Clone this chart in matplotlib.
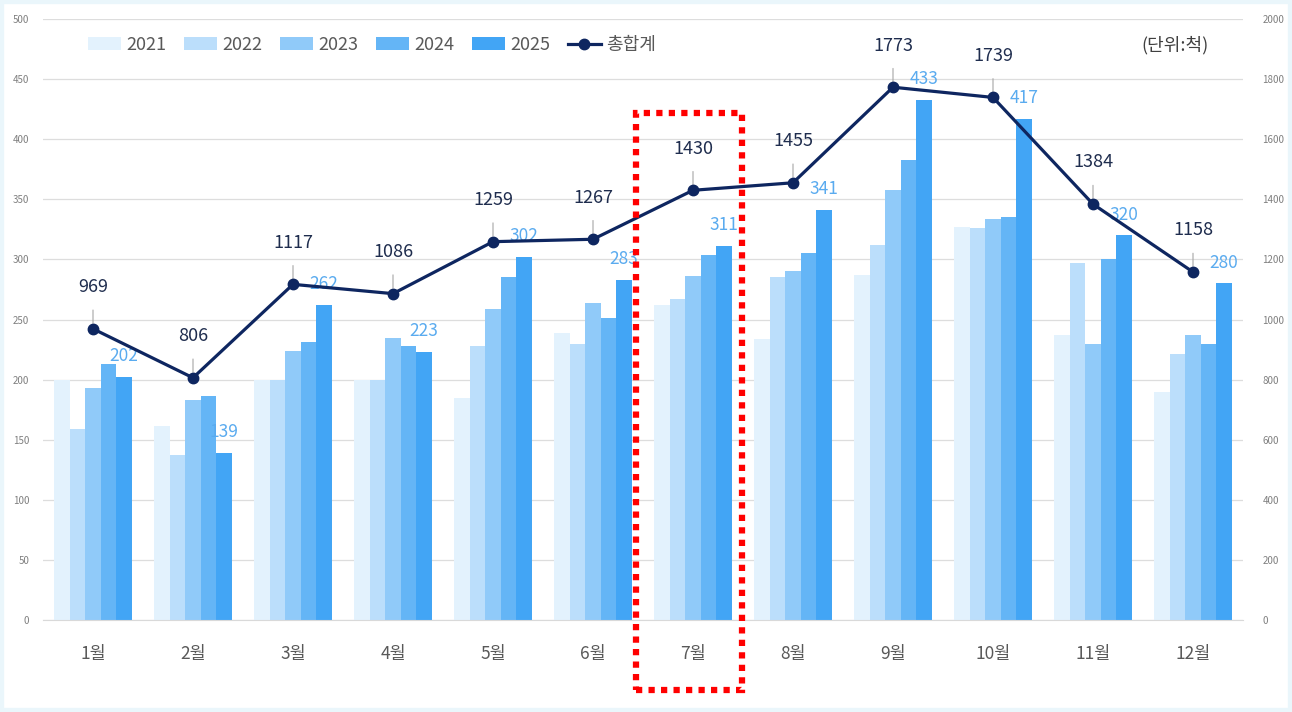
import matplotlib.pyplot as plt
from matplotlib.patches import Rectangle
import numpy as np

plt.rcParams['font.family'] = ['Noto Sans CJK KR', 'DejaVu Sans']

months = ['1월', '2월', '3월', '4월', '5월', '6월', '7월', '8월', '9월', '10월', '11월', '12월']
years = ['2021', '2022', '2023', '2024', '2025']
v2021 = [200, 161, 200, 200, 185, 239, 262, 234, 287, 327, 237, 190]
v2022 = [159, 137, 200, 200, 228, 230, 267, 285, 312, 326, 297, 221]
v2023 = [193, 183, 224, 235, 259, 264, 286, 290, 358, 334, 230, 237]
v2024 = [213, 186, 231, 228, 285, 251, 304, 305, 383, 335, 300, 230]
v2025 = [202, 139, 262, 223, 302, 283, 311, 341, 433, 417, 320, 280]
totals = [969, 806, 1117, 1086, 1259, 1267, 1430, 1455, 1773, 1739, 1384, 1158]
highlight = '7월'

bar_colors = ['#e3f2fd', '#bbdefb', '#90caf9', '#64b5f6', '#42a5f5']
line_color = '#0e2660'

fig = plt.figure(figsize=(12.92, 7.12), dpi=100)
ax = fig.add_axes([43 / 1292, 1 - 620 / 712, 1200 / 1292, 601 / 712])
ax2 = ax.twinx()

x = np.arange(len(months))
width = 0.155
series = [v2021, v2022, v2023, v2024, v2025]
for i, vals in enumerate(series):
    ax.bar(x + (i - 2) * width, vals, width, color=bar_colors[i], label=years[i], zorder=2)

# 2025 value labels
for xi, v in zip(x, v2025):
    ax.annotate(str(v), (xi + 2 * width, v), xytext=(0, 15), textcoords='offset points',
                ha='center', va='center', fontsize=12.5, color='#5aabef', zorder=4)

ax.set_xlim(-0.5, len(months) - 0.5)
ax.set_ylim(0, 500)
ax.set_yticks(np.arange(0, 501, 50))
ax.grid(axis='y', color='#dddddd', linewidth=0.9, zorder=0)
ax.set_axisbelow(True)
ax.set_xticks(x)
ax.set_xticklabels(months, fontsize=12.5, color='#595959')
ax.tick_params(axis='y', labelsize=7, colors='#7f7f7f', length=0, pad=10)
ax.tick_params(axis='x', length=0, pad=18)
for s in ax.spines.values():
    s.set_visible(False)
ax.spines['bottom'].set_visible(True)
ax.spines['bottom'].set_color('#d9d9d9')

# total line on secondary axis
ax2.plot(x, totals, color=line_color, linewidth=2.3, marker='o', markersize=7.5,
         label='총합계', zorder=5)
for xi, t in zip(x, totals):
    ax2.annotate(str(t), (xi, t), xytext=(0, 30), textcoords='offset points',
                 ha='center', va='center', fontsize=13, color='#1f2d4e',
                 arrowprops=dict(arrowstyle='-', color='#a6a6a6', lw=0.8, shrinkA=8, shrinkB=4))
ax2.set_ylim(0, 2000)
ax2.set_yticks(np.arange(0, 2001, 200))
ax2.tick_params(axis='y', labelsize=7, colors='#7f7f7f', length=0, pad=14)
for s in ax2.spines.values():
    s.set_visible(False)
ax.set_zorder(ax2.get_zorder() - 1)
ax.patch.set_visible(False)

# legend
h1, l1 = ax.get_legend_handles_labels()
h2, l2 = ax2.get_legend_handles_labels()
fig.legend(h1 + h2, l1 + l2, loc='center left', bbox_to_anchor=(72 / 1292, 1 - 45 / 712),
           ncol=6, frameon=False, fontsize=13, labelcolor='#595959',
           handlelength=1.8, handletextpad=0.3, columnspacing=1.0)
fig.text(1175 / 1292, 1 - 45 / 712, '(단위:척)', ha='center', va='center',
         fontsize=13, color='#404040')

# highlight box
hi = months.index(highlight)
rect = Rectangle((hi - 0.57, -58), 1.06, 480, fill=False, edgecolor='#ff0000',
                 linewidth=4.5, linestyle=(0, (1, 1)), clip_on=False, zorder=10,
                 transform=ax.transData)
ax2.add_artist(rect)
rect.set_transform(ax.transData)

# pale frame
fig.patches.append(Rectangle((0, 0), 1, 1, transform=fig.transFigure, fill=False,
                             edgecolor='#eaf6fb', linewidth=6))

fig.savefig('out.png', dpi=100, facecolor='white')
